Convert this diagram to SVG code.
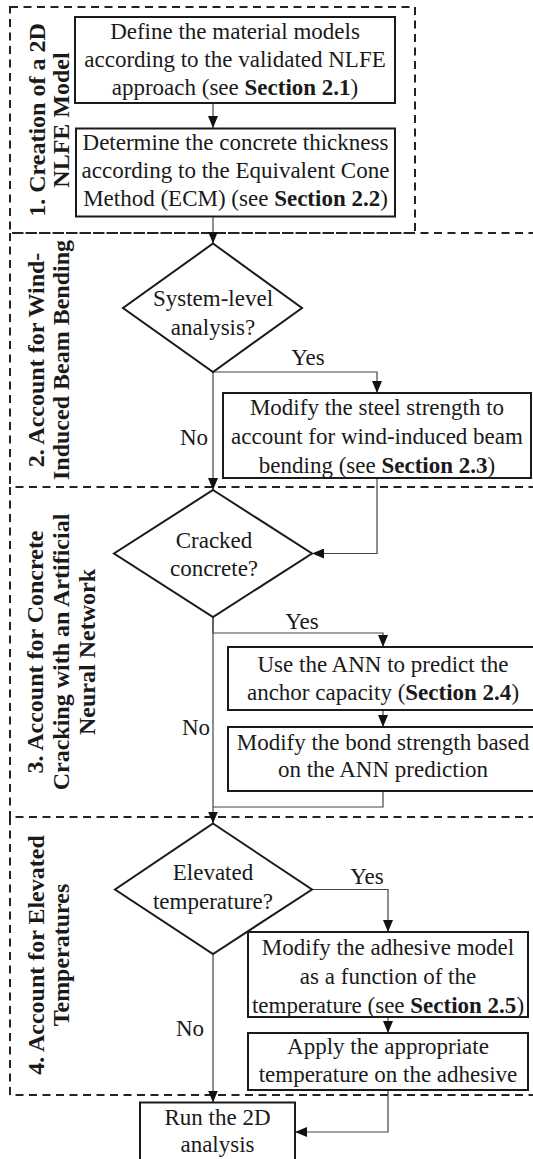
<svg xmlns="http://www.w3.org/2000/svg" width="533" height="1159" viewBox="0 0 533 1159" font-family="'Liberation Serif', 'DejaVu Serif', serif">
<style>
.sec{fill:none;stroke:#222;stroke-width:2;stroke-dasharray:8,5.5}
.box{fill:#fff;stroke:#1a1a1a;stroke-width:2}
.con{fill:none;stroke:#444;stroke-width:1.2}
.t{font-size:23px;fill:#1a1a1a;text-anchor:middle}
.b{font-weight:bold}
.lbl{font-size:24px;font-weight:bold;fill:#1a1a1a;text-anchor:middle}
</style>
<defs>
<marker id="ah" markerWidth="12" markerHeight="10" refX="12" refY="5" orient="auto" markerUnits="userSpaceOnUse">
<path d="M0,0 L12,5 L0,10 z" fill="#111"/>
</marker>
</defs>
<rect width="533" height="1159" fill="#fff"/>

<g id="sections">
<g id="section1"><rect class="sec" x="10" y="7" width="405" height="226"/>
<text class="lbl" transform="translate(44.5,120) rotate(-90)"><tspan x="0" y="0">1. Creation of a 2D</tspan><tspan x="0" y="24">NLFE Model</tspan></text></g>
<g id="section2"><path class="sec" d="M550,233 H10 V487"/>
<text class="lbl" transform="translate(43.5,360) rotate(-90)"><tspan x="0" y="0">2. Account for Wind-</tspan><tspan x="0" y="25.5">Induced Beam Bending</tspan></text></g>
<g id="section3"><path class="sec" d="M550,487 H10 V817"/>
<text class="lbl" transform="translate(43,652) rotate(-90)"><tspan x="0" y="0">3. Account for Concrete</tspan><tspan x="0" y="26">Cracking with an Artificial</tspan><tspan x="0" y="52">Neural Network</tspan></text></g>
<g id="section4"><path class="sec" d="M550,817 H10 V1095 H550"/>
<text class="lbl" transform="translate(43.5,955) rotate(-90)"><tspan x="0" y="0">4. Account for Elevated</tspan><tspan x="0" y="25.5">Temperatures</tspan></text></g>
</g>

<g id="connectors">
<path class="con" d="M213,103 V128" marker-end="url(#ah)"/>
<path class="con" d="M213,217 V243.5" marker-end="url(#ah)"/>
<path class="con" d="M213,372 H377 V393" marker-end="url(#ah)"/>
<path class="con" d="M213,372 V490" marker-end="url(#ah)"/>
<path class="con" d="M377,478 V553.5 H312" marker-end="url(#ah)"/>
<path class="con" d="M213,617 V633 H383 V647" marker-end="url(#ah)"/>
<path class="con" d="M383,710 V727" marker-end="url(#ah)"/>
<path class="con" d="M383,791 V807 H213"/>
<path class="con" d="M213,617 V823.5" marker-end="url(#ah)"/>
<path class="con" d="M312,889.5 H388 V932" marker-end="url(#ah)"/>
<path class="con" d="M388,1017 V1033" marker-end="url(#ah)"/>
<path class="con" d="M213,954 V1102.5" marker-end="url(#ah)"/>
<path class="con" d="M388,1090 V1132 H295" marker-end="url(#ah)"/>
<text class="t" x="308" y="365">Yes</text>
<text class="t" x="194" y="445">No</text>
<text class="t" x="302" y="629">Yes</text>
<text class="t" x="196" y="735">No</text>
<text class="t" x="367" y="884">Yes</text>
<text class="t" x="190" y="1036">No</text>
</g>

<g id="box1"><rect class="box" x="75" y="17" width="320" height="86"/>
<text class="t"><tspan x="235" y="39">Define the material models</tspan><tspan x="235" y="67">according to the validated NLFE</tspan><tspan x="235" y="95">approach (see <tspan class="b">Section 2.1</tspan>)</tspan></text></g>

<g id="box2"><rect class="box" x="76" y="128.5" width="319" height="88"/>
<text class="t"><tspan x="235.5" y="150">Determine the concrete thickness</tspan><tspan x="235.5" y="178">according to the Equivalent Cone</tspan><tspan x="235.5" y="206">Method (ECM) (see <tspan class="b">Section 2.2</tspan>)</tspan></text></g>

<g id="decision1"><polygon class="box" points="213,243.5 302,308 213,372 123,308"/>
<text class="t"><tspan x="213" y="306">System-level</tspan><tspan x="213" y="334.5">analysis?</tspan></text></g>

<g id="box3"><rect class="box" x="223" y="393" width="308" height="85"/>
<text class="t"><tspan x="377" y="415">Modify the steel strength to</tspan><tspan x="377" y="444">account for wind-induced beam</tspan><tspan x="377" y="472.5">bending (see <tspan class="b">Section 2.3</tspan>)</tspan></text></g>

<g id="decision2"><polygon class="box" points="213,490 312,553.5 213,617 114,553.5"/>
<text class="t"><tspan x="214" y="547.5">Cracked</tspan><tspan x="214" y="576">concrete?</tspan></text></g>

<g id="box4"><rect class="box" x="228" y="647" width="312" height="63"/>
<text class="t"><tspan x="383" y="672">Use the ANN to predict the</tspan><tspan x="383" y="700">anchor capacity (<tspan class="b">Section 2.4</tspan>)</tspan></text></g>

<g id="box5"><rect class="box" x="228" y="727" width="312" height="64"/>
<text class="t"><tspan x="383" y="749.5">Modify the bond strength based</tspan><tspan x="383" y="777">on the ANN prediction</tspan></text></g>

<g id="decision3"><polygon class="box" points="213,823.5 312,889.5 213,954 115,889.5"/>
<text class="t"><tspan x="213" y="880">Elevated</tspan><tspan x="213" y="908.5">temperature?</tspan></text></g>

<g id="box6"><rect class="box" x="248" y="932" width="280" height="85"/>
<text class="t"><tspan x="388" y="955">Modify the adhesive model</tspan><tspan x="388" y="984">as a function of the</tspan><tspan x="388" y="1012.5">temperature (see <tspan class="b">Section 2.5</tspan>)</tspan></text></g>

<g id="box7"><rect class="box" x="248" y="1033" width="280" height="57"/>
<text class="t"><tspan x="388" y="1054">Apply the appropriate</tspan><tspan x="388" y="1082">temperature on the adhesive</tspan></text></g>

<g id="box8"><rect class="box" x="140" y="1102.5" width="155" height="70"/>
<text class="t"><tspan x="217.5" y="1125">Run the 2D</tspan><tspan x="217.5" y="1152">analysis</tspan></text></g>
</svg>
